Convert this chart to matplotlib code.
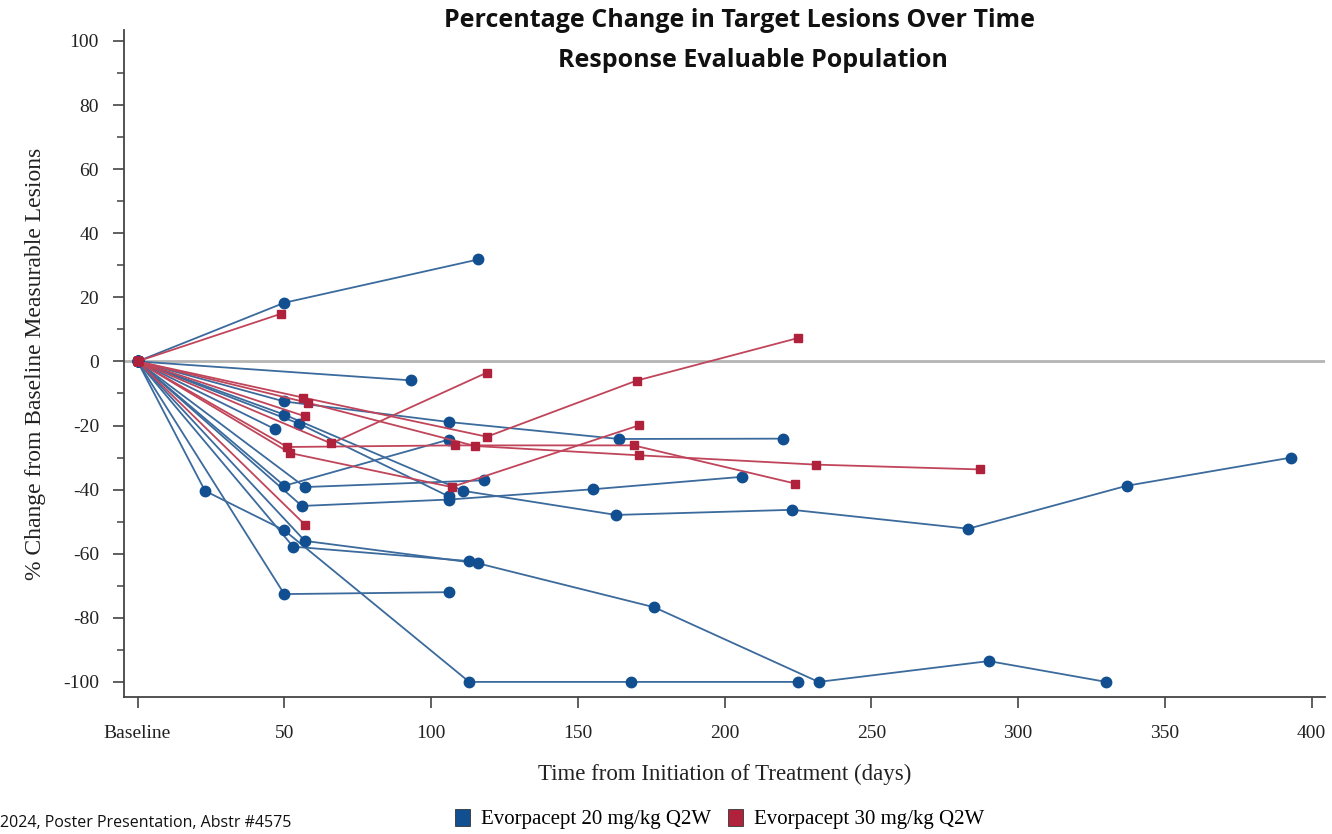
import matplotlib
matplotlib.use("Agg")
import matplotlib.pyplot as plt
from matplotlib.patches import Patch

plt.rcParams["axes.unicode_minus"] = False

# Days from first dose and % change per patient, 20 mg/kg arm
days_20 = [
    [0, 50, 116],
    [0, 93],
    [0, 50, 106, 164, 220],
    [0, 50, 111, 163, 223, 283, 337, 393],
    [0, 55, 106],
    [0, 47],
    [0, 50, 106],
    [0, 57, 118],
    [0, 56, 106, 155, 206],
    [0, 23, 50, 113, 168, 225],
    [0, 53, 113],
    [0, 57, 116, 176, 232, 290, 330],
    [0, 50, 106],
]
pct_20 = [
    [0, 18.3, 31.8],
    [0, -5.9],
    [0, -12.5, -18.9, -24.2, -24.1],
    [0, -16.6, -40.4, -47.9, -46.3, -52.2, -38.8, -30.0],
    [0, -19.4, -42.1],
    [0, -21.2],
    [0, -38.8, -24.4],
    [0, -39.2, -37.1],
    [0, -45.1, -43.1, -39.9, -36.0],
    [0, -40.4, -52.7, -100, -100, -100],
    [0, -57.8, -62.3],
    [0, -56.0, -63.0, -76.7, -100, -93.5, -100],
    [0, -72.6, -72.0],
]

# 30 mg/kg arm
days_30 = [
    [0, 49],
    [0, 66, 119],
    [0, 52, 107, 171],
    [0, 57],
    [0, 56.5, 119, 170, 225],
    [0, 58, 115, 171, 231, 287],
    [0, 57],
    [0, 51, 108, 169, 224],
]
pct_30 = [
    [0, 14.9],
    [0, -25.6, -3.5],
    [0, -28.6, -39.2, -19.9],
    [0, -50.9],
    [0, -11.3, -23.5, -6.0, 7.3],
    [0, -12.9, -26.4, -29.3, -32.2, -33.7],
    [0, -17.1],
    [0, -26.7, -26.2, -26.2, -38.1],
]

x_ticks = [0, 50, 100, 150, 200, 250, 300, 350, 400]
x_labels = ["Baseline", "50", "100", "150", "200", "250", "300", "350", "400"]
y_ticks = [100, 80, 60, 40, 20, 0, -20, -40, -60, -80, -100]

blue_mk = "#124f91"
blue_ln = "#3b6a9c"
red_mk = "#b0213c"
red_ln = "#c0455a"
serif = "Liberation Serif"

fig = plt.figure(figsize=(13.32, 8.34), dpi=100)
ax = fig.add_axes([0.0931, 0.1643, 0.9016, 0.7997])

ax.axhline(0, color="#b4b4b4", lw=2.0, zorder=1)

for d, p in zip(days_20, pct_20):
    ax.plot(d, p, color=blue_ln, lw=1.3, zorder=2)
    ax.plot(d, p, ls="none", marker="o", ms=7.5, color=blue_mk, zorder=3)

for d, p in zip(days_30, pct_30):
    ax.plot(d, p, color=red_ln, lw=1.3, zorder=4)
    ax.plot(d, p, ls="none", marker="s", ms=6.3, color=red_mk, zorder=5)

ax.set_xlim(-4.6, 404.5)
ax.set_ylim(-104.7, 103.4)

ax.set_xticks(x_ticks)
ax.set_xticklabels(x_labels)
ax.set_yticks(y_ticks)
ax.set_yticks(range(-90, 100, 20), minor=True)

for s in ["top", "right"]:
    ax.spines[s].set_visible(False)
for s in ["left", "bottom"]:
    ax.spines[s].set_color("#444444")
    ax.spines[s].set_linewidth(1.3)

ax.tick_params(axis="both", which="major", direction="out", length=8,
               width=1.2, color="#444444", labelsize=14, pad=10)
ax.tick_params(axis="y", which="minor", direction="out", length=5,
               width=1.1, color="#444444")
ax.tick_params(axis="x", pad=12)
for lbl in ax.get_xticklabels() + ax.get_yticklabels():
    lbl.set_family(serif)
    lbl.set_color("#222222")

ax.set_xlabel("Time from Initiation of Treatment (days)", family=serif,
              fontsize=16.5, color="#222222", labelpad=16)
ax.set_ylabel("% Change from Baseline Measurable Lesions", family=serif,
              fontsize=17, color="#222222", labelpad=12)

fig.text(0.555, 0.975, "Percentage Change in Target Lesions Over Time",
         ha="center", va="center", fontsize=18, fontweight="bold",
         family="Open Sans", color="#111111")
fig.text(0.565, 0.927, "Response Evaluable Population",
         ha="center", va="center", fontsize=18, fontweight="bold",
         family="Open Sans", color="#111111")

handles = [Patch(facecolor=blue_mk, edgecolor="#333333", lw=0.6,
                 label="Evorpacept 20 mg/kg Q2W"),
           Patch(facecolor=red_mk, edgecolor="#333333", lw=0.6,
                 label="Evorpacept 30 mg/kg Q2W")]
fig.legend(handles=handles, loc="center", bbox_to_anchor=(0.54, 0.018),
           ncol=2, frameon=False, handlelength=0.75, handleheight=0.9,
           handletextpad=0.5, columnspacing=0.8,
           prop={"family": serif, "size": 15})

fig.text(0.0, 0.004, "2024, Poster Presentation, Abstr #4575", ha="left",
         va="bottom", fontsize=11.5, family="Open Sans", color="#111111")

fig.savefig("out.png", dpi=100)
